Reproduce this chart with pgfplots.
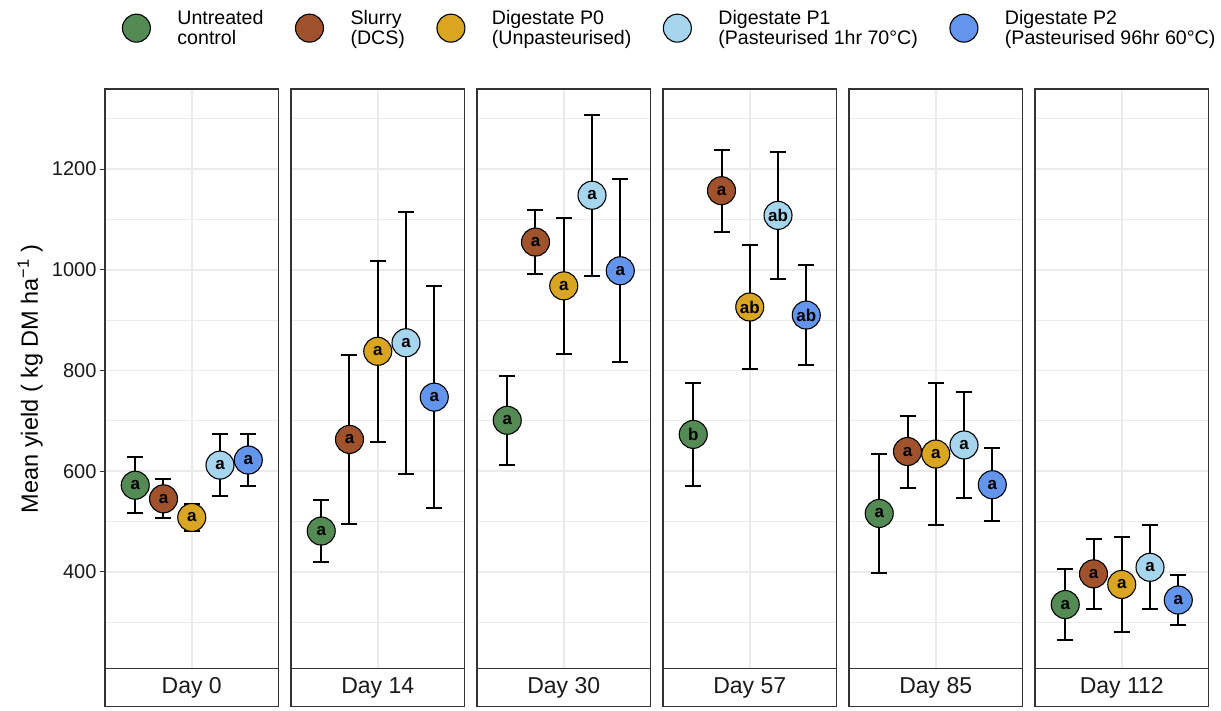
\documentclass[border=0pt]{standalone}
\usepackage{pgfplots}
\pgfplotsset{compat=1.18}
\usepackage{fontspec}
\setmainfont{Liberation Sans}
\definecolor{cG}{HTML}{548B54}
\definecolor{cB}{HTML}{A0522D}
\definecolor{cY}{HTML}{DAA520}
\definecolor{cL}{HTML}{A6D5EE}
\definecolor{cP}{HTML}{6495ED}
\definecolor{framec}{HTML}{333333}
\definecolor{gridc}{HTML}{EBEBEB}
\definecolor{txtc}{HTML}{1A1A1A}

\pgfplotsset{
  panel/.style={
    scale only axis, width=173.5pt, height=579.5pt, anchor=north west,
    xmin=-3.07, xmax=3.07, ymin=208, ymax=1359,
    xtick={0}, xticklabels={}, xtick style={draw=none},
    ytick={400,600,...,1200}, minor ytick={300,500,...,1300},
    grid=both,
    major grid style={draw=gridc, line width=1.6pt},
    minor grid style={draw=gridc, line width=0.8pt},
    axis line style={draw=framec, line width=1.1pt},
    minor tick length=0pt,
    clip=false,
    error bars/y dir=both, error bars/y explicit,
    error bars/error bar style={black, line width=2pt},
    error bars/error mark options={rotate=90, black, line width=2pt, mark size=8pt},
    nodes near coords, point meta=explicit symbolic,
    nodes near coords align=center,
    every node near coord/.append style={font=\fontsize{17}{17}\selectfont\bfseries, text=black, anchor=center, inner sep=0pt},
  },
  inner/.style={yticklabels={}, ytick style={draw=none}},
  strip/.style={after end axis/.code={
    \draw[framec, line width=1.1pt, fill=white] (rel axis cs:0,0) rectangle ([yshift=-38pt]rel axis cs:1,0);
    \node[font=\fontsize{23}{23}\selectfont, text=txtc] at ([yshift=-19pt]rel axis cs:0.5,0) {#1};
  }},
  trt/.style={only marks, mark=*, mark size=14pt, mark options={draw=black, line width=1.1pt, fill=#1}},
}

\begin{document}
\begin{tikzpicture}
\useasboundingbox (0pt,0pt) rectangle (1221pt,-710pt);

% Day 0
\begin{axis}[panel, strip={Day 0}, at={(105pt,-89pt)},
  tick align=outside, ytick pos=left, major tick length=5pt,
  ytick style={draw=framec, line width=1.1pt},
  /pgf/number format/assume math mode=true,
  /pgf/number format/set thousands separator={},
  yticklabel style={font=\fontsize{20}{20}\selectfont, text=txtc},
  ylabel={Mean yield ( kg DM ha\textsuperscript{−1} )},
  every axis y label/.style={at={(axis description cs:-0.432,0.5)}, rotate=90, anchor=center, font=\fontsize{23.5}{23.5}\selectfont, text=black},
  legend columns=5,
  legend cell align=left,
  legend style={at={(axis description cs:3.256,1.105)}, anchor=center, draw=none, fill=none,
    font=\fontsize{19.6}{19.5}\selectfont, cells={align=left},
    /tikz/every odd column/.append style={column sep=25pt},
    /tikz/every even column/.append style={column sep=30pt}},
  legend image code/.code={\draw[#1] plot coordinates {(0pt,0pt)};},
]
\addplot[trt=cG] coordinates {(-2,572) +- (0,56) [a]};
\addplot[trt=cB] coordinates {(-1,545) +- (0,39) [a]};
\addplot[trt=cY] coordinates {(0,508) +- (0,27) [a]};
\addplot[trt=cL] coordinates {(1,612) +- (0,62) [a]};
\addplot[trt=cP] coordinates {(2,622) +- (0,51) [a]};
\legend{Untreated\\control, Slurry\\(DCS), Digestate P0\\(Unpasteurised), Digestate P1\\(Pasteurised 1hr 70°C), Digestate P2\\(Pasteurised 96hr 60°C)}
\end{axis}

% Day 14
\begin{axis}[panel, inner, strip={Day 14}, at={(291pt,-89pt)}]
\addplot[trt=cG] coordinates {(-2,481) +- (0,61.5) [a]};
\addplot[trt=cB] coordinates {(-1,663) +- (0,167) [a]};
\addplot[trt=cY] coordinates {(0,838) +- (0,180) [a]};
\addplot[trt=cL] coordinates {(1,855) +- (0,260) [a]};
\addplot[trt=cP] coordinates {(2,747) +- (0,220) [a]};
\end{axis}

% Day 30
\begin{axis}[panel, inner, strip={Day 30}, at={(477pt,-89pt)}]
\addplot[trt=cG] coordinates {(-2,701) +- (0,88) [a]};
\addplot[trt=cB] coordinates {(-1,1055) +- (0,64) [a]};
\addplot[trt=cY] coordinates {(0,968) +- (0,135) [a]};
\addplot[trt=cL] coordinates {(1,1148) +- (0,160) [a]};
\addplot[trt=cP] coordinates {(2,998) +- (0,182) [a]};
\end{axis}

% Day 57
\begin{axis}[panel, inner, strip={Day 57}, at={(663pt,-89pt)}]
\addplot[trt=cG] coordinates {(-2,673) +- (0,103) [b]};
\addplot[trt=cB] coordinates {(-1,1157) +- (0,81.5) [a]};
\addplot[trt=cY] coordinates {(0,926) +- (0,122.5) [ab]};
\addplot[trt=cL] coordinates {(1,1108) +- (0,126) [ab]};
\addplot[trt=cP] coordinates {(2,910) +- (0,100) [ab]};
\end{axis}

% Day 85
\begin{axis}[panel, inner, strip={Day 85}, at={(849pt,-89pt)}]
\addplot[trt=cG] coordinates {(-2,516) +- (0,119) [a]};
\addplot[trt=cB] coordinates {(-1,639) +- (0,71.5) [a]};
\addplot[trt=cY] coordinates {(0,634) +- (0,141) [a]};
\addplot[trt=cL] coordinates {(1,652) +- (0,105.5) [a]};
\addplot[trt=cP] coordinates {(2,573) +- (0,73) [a]};
\end{axis}

% Day 112
\begin{axis}[panel, inner, strip={Day 112}, at={(1035pt,-89pt)}]
\addplot[trt=cG] coordinates {(-2,335) +- (0,70.5) [a]};
\addplot[trt=cB] coordinates {(-1,396) +- (0,69.5) [a]};
\addplot[trt=cY] coordinates {(0,375) +- (0,94.5) [a]};
\addplot[trt=cL] coordinates {(1,409) +- (0,83.5) [a]};
\addplot[trt=cP] coordinates {(2,344) +- (0,49) [a]};
\end{axis}
\end{tikzpicture}
\end{document}
